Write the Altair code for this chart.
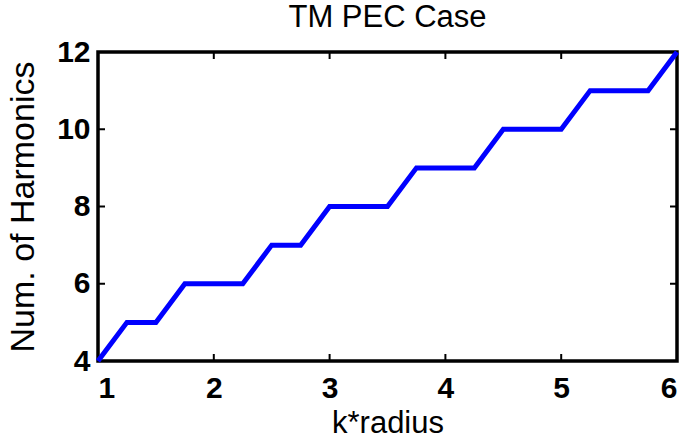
import altair as alt
import pandas as pd

k_radius = [1.0, 1.25, 1.5, 1.75, 2.0, 2.25, 2.5, 2.75, 3.0, 3.25, 3.5, 3.75,
            4.0, 4.25, 4.5, 4.75, 5.0, 5.25, 5.5, 5.75, 6.0]
harmonics = [4, 5, 5, 6, 6, 6, 7, 7, 8, 8, 8, 9, 9, 9, 10, 10, 10, 11, 11, 11, 12]
x_tick_vals = [1, 2, 3, 4, 5, 6]
y_tick_vals = [4, 6, 8, 10, 12]

W, H = 579, 309
TL = 7
FONT = "Liberation Sans"

df = pd.DataFrame({"x": k_radius, "y": harmonics})
xt = pd.DataFrame({"x": x_tick_vals})
yt = pd.DataFrame({"y": y_tick_vals})

xscale = alt.Scale(domain=[1, 6], nice=False, zero=False)
yscale = alt.Scale(domain=[4, 12], nice=False, zero=False)

line = alt.Chart(df).mark_line(color="#0000ff", strokeWidth=5, strokeJoin="miter", strokeCap="butt").encode(
    x=alt.X("x:Q", scale=xscale, title="k*radius",
            axis=alt.Axis(values=x_tick_vals, format="d", grid=False, domain=False, ticks=False,
                          labelFont=FONT, labelFontSize=30, labelFontWeight="bold", labelColor="black",
                          labelPadding=12, titleFont=FONT, titleFontSize=31, titleFontWeight="normal",
                          titleColor="black", titlePadding=5)),
    y=alt.Y("y:Q", scale=yscale, title="Num. of Harmonics",
            axis=alt.Axis(values=y_tick_vals, format="d", grid=False, domain=False, ticks=False,
                          labelFont=FONT, labelFontSize=30, labelFontWeight="bold", labelColor="black",
                          labelPadding=8, titleFont=FONT, titleFontSize=34, titleFontWeight="normal",
                          titleColor="black", titlePadding=16)),
)

xt_bottom = alt.Chart(xt).mark_rule(color="black", strokeWidth=2).encode(
    x=alt.X("x:Q", scale=xscale), y=alt.value(H), y2=alt.value(H - TL))
xt_top = alt.Chart(xt).mark_rule(color="black", strokeWidth=2).encode(
    x=alt.X("x:Q", scale=xscale), y=alt.value(0), y2=alt.value(TL))
yt_left = alt.Chart(yt).mark_rule(color="black", strokeWidth=2).encode(
    y=alt.Y("y:Q", scale=yscale), x=alt.value(0), x2=alt.value(TL))
yt_right = alt.Chart(yt).mark_rule(color="black", strokeWidth=2).encode(
    y=alt.Y("y:Q", scale=yscale), x=alt.value(W), x2=alt.value(W - TL))

chart = alt.layer(xt_bottom, xt_top, yt_left, yt_right, line).properties(
    width=W, height=H,
    title=alt.TitleParams("TM PEC Case", font=FONT, fontSize=31, fontWeight="normal",
                          color="black", offset=3),
    autosize=alt.AutoSizeParams(type="none"),
    padding={"left": 98, "top": 52, "right": 9, "bottom": 79},
    background="white",
).configure_view(stroke="black", strokeWidth=3.5)

chart.save("out.html", embed_options={"renderer": "svg", "actions": False})
